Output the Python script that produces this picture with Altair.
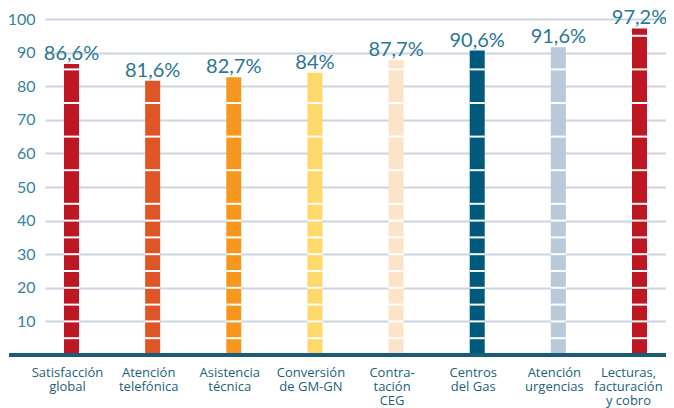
import altair as alt
import pandas as pd

categories = ["Satisfacción|global", "Atención|telefónica", "Asistencia|técnica",
              "Conversión|de GM-GN", "Contra-|tación|CEG", "Centros|del Gas",
              "Atención|urgencias", "Lecturas,|facturación|y cobro"]
values = [86.6, 81.6, 82.7, 84.0, 87.7, 90.6, 91.6, 97.2]
value_labels = ["86,6%", "81,6%", "82,7%", "84%", "87,7%", "90,6%", "91,6%", "97,2%"]
colors = ["#be1622", "#e05526", "#f7971f", "#fdd86a", "#fde3c8", "#005a7d", "#b8cad9", "#be1622"]
y_ticks = [10, 20, 30, 40, 50, 60, 70, 80, 90, 100]
sep_levels = [5, 10, 15, 20, 25, 30, 35, 40, 45, 55, 65, 75, 85, 95]

df = pd.DataFrame({"cat": categories, "value": values, "label": value_labels,
                   "color": colors})
seps = pd.DataFrame([{"cat": c, "value": s} for c, v in zip(categories, values)
                     for s in sep_levels if s < v - 0.5])

TICK_COLOR = "#3a7f9e"
VAL_COLOR = "#2c7595"
CAT_COLOR = "#1d5f7d"
PLOT_W, PLOT_H = 621, 336

xscale = alt.Scale(paddingInner=0.81, paddingOuter=0.2317, align=0.5)
yscale = alt.Scale(domain=[0, 100], nice=False)
xaxis = alt.Axis(title=None, labelAngle=0, domain=False, ticks=False,
                 labelExpr="split(datum.label, '|')",
                 labelFont="Open Sans", labelFontSize=13, labelColor=CAT_COLOR,
                 labelLineHeight=14, labelPadding=11, labelBaseline="top",
                 labelOverlap=False,
                 labelOffset={"condition": {"test": "datum.index === 1", "value": -11},
                              "value": -4})
yaxis = alt.Axis(title=None, values=y_ticks, domain=False, ticks=False,
                 labelPadding=10, labelFont="Lato",
                 labelFontSize=16, labelColor=TICK_COLOR, labelOverlap=False,
                 grid=True, gridColor="#cbd6e1", gridWidth=2)

X = alt.X("cat:N", sort=categories, scale=xscale, axis=xaxis)
Y = alt.Y("value:Q", scale=yscale, axis=yaxis)

bars = alt.Chart(df).mark_bar(width=15).encode(
    x=X, y=Y, color=alt.Color("color:N", scale=None),
)

separators = alt.Chart(seps).mark_tick(orient="horizontal", size=15, thickness=2,
                                        color="white", opacity=1).encode(x=X, y=Y)

labels = alt.Chart(df).mark_text(baseline="alphabetic", dy=-4, font="Lato",
                                 fontSize=20, color=VAL_COLOR).encode(
    x=X, y=Y, text="label:N",
)

baseline = alt.Chart(df).mark_rule(color="#1a5d7a", strokeWidth=3).encode(
    x=alt.value(-36), x2=alt.value(PLOT_W), y=alt.value(PLOT_H),
)

chart = alt.layer(bars, separators, labels, baseline).properties(
    width=PLOT_W, height=PLOT_H,
    autosize=alt.AutoSizeParams(type="none"),
    padding={"left": 37, "top": 11, "right": 0, "bottom": 53},
).configure_view(stroke=None)

chart.save("out.html", embed_options={"renderer": "svg", "actions": False})
